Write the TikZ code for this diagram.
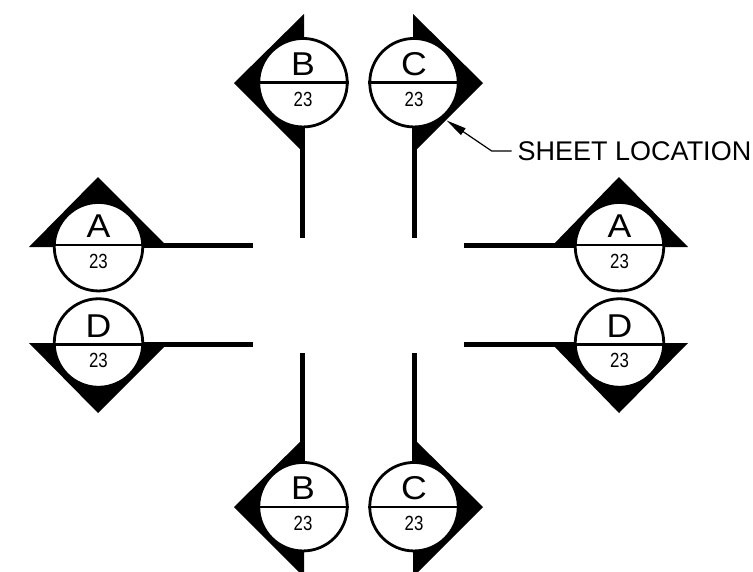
\documentclass[tikz,border=0pt]{standalone}
\usepackage{fontspec}
\usepackage{graphicx}
\setmainfont{Liberation Sans}
\usetikzlibrary{arrows.meta}
\tikzset{
  bubble/.style={circle,draw=black,fill=white,line width=2.8pt,minimum size=88.5pt,inner sep=0pt},
  divider/.style={line width=2.6pt,draw=black},
  stem/.style={line width=5pt,draw=black},
  wedge/.style={fill=black,draw=none},
  letterlabel/.style={inner sep=0pt,font=\fontsize{33}{33}\selectfont},
  numlabel/.style={inner sep=0pt,font=\fontsize{20.5}{20.5}\selectfont},
  leader/.style={line width=1.2pt,draw=black},
  calloutlabel/.style={inner sep=0pt,anchor=west,font=\fontsize{27}{28}\selectfont}
}
% name, centre x, centre y, divider offset, letter
\newcommand{\SectionBubble}[5]{%
  \node[bubble] (#1) at (#2,#3) {};
  \path (#1.center) ++(0,#4) coordinate (#1-m);
  \draw[divider] (#1.west |- #1-m) -- (#1.east |- #1-m);
  \path (#1-m) ++(0,-18.5) node[letterlabel] (#1-l) {\scalebox{1.08}[1]{#5}};
  \path (#1-m) ++(0,16.3) node[numlabel] (#1-n) {\scalebox{.82}[1]{23}};
}
\begin{document}
\begin{tikzpicture}[x=1pt,y=-1pt]
\useasboundingbox (0,0) rectangle (753,571);
\clip (0,0) rectangle (753,571);
\fill[white] (0,0) rectangle (753,571);
% wedges
\fill[wedge] (304,14) -- (234,83) -- (304,153) -- cycle;
\fill[wedge] (413,14) -- (483,83) -- (413,153) -- cycle;
\fill[wedge] (304,438) -- (234,507) -- (304,577) -- cycle;
\fill[wedge] (413,438) -- (483,507) -- (413,577) -- cycle;
\fill[wedge] (29,247) -- (98,177) -- (168,247) -- cycle;
\fill[wedge] (29,343) -- (98,413) -- (168,343) -- cycle;
\fill[wedge] (551,247) -- (619,177) -- (688,247) -- cycle;
\fill[wedge] (551,343) -- (619,413) -- (688,343) -- cycle;
% bubbles
\SectionBubble{bt}{303}{82.7}{0}{B}
\SectionBubble{ct}{414}{82.7}{0}{C}
\SectionBubble{bb}{303}{506.7}{0.3}{B}
\SectionBubble{cb}{414}{506.7}{0.3}{C}
\SectionBubble{al}{98.5}{246.7}{-1.6}{A}
\SectionBubble{dl}{98.5}{343}{1.3}{D}
\SectionBubble{ar}{619.5}{246.7}{-1.6}{A}
\SectionBubble{dr}{619.5}{343}{1.3}{D}
% stems
\coordinate (s1) at (302.7,238); \draw[stem] (bt.south -| s1) -- (s1);
\coordinate (s2) at (414.2,238); \draw[stem] (ct.south -| s2) -- (s2);
\coordinate (s3) at (302.7,352.5); \draw[stem] (bb.north -| s3) -- (s3);
\coordinate (s4) at (414.2,352.5); \draw[stem] (cb.north -| s4) -- (s4);
\coordinate (s5) at (253,245.5); \draw[stem] (al.east |- s5) -- (s5);
\coordinate (s6) at (253,344.6); \draw[stem] (dl.east |- s6) -- (s6);
\coordinate (s7) at (463.5,245.5); \draw[stem] (ar.west |- s7) -- (s7);
\coordinate (s8) at (463.5,344.6); \draw[stem] (dr.west |- s8) -- (s8);
% callout
\node[calloutlabel] (sheet) at (517.5,151) {SHEET LOCATION};
\coordinate (tip) at (446.7,120.5);
\coordinate (elbow) at (491.7,151);
\draw[leader,-{Triangle[length=20pt,width=8pt]}] ([xshift=-6pt]sheet.west) -- (elbow) -- (tip);
\end{tikzpicture}
\end{document}
